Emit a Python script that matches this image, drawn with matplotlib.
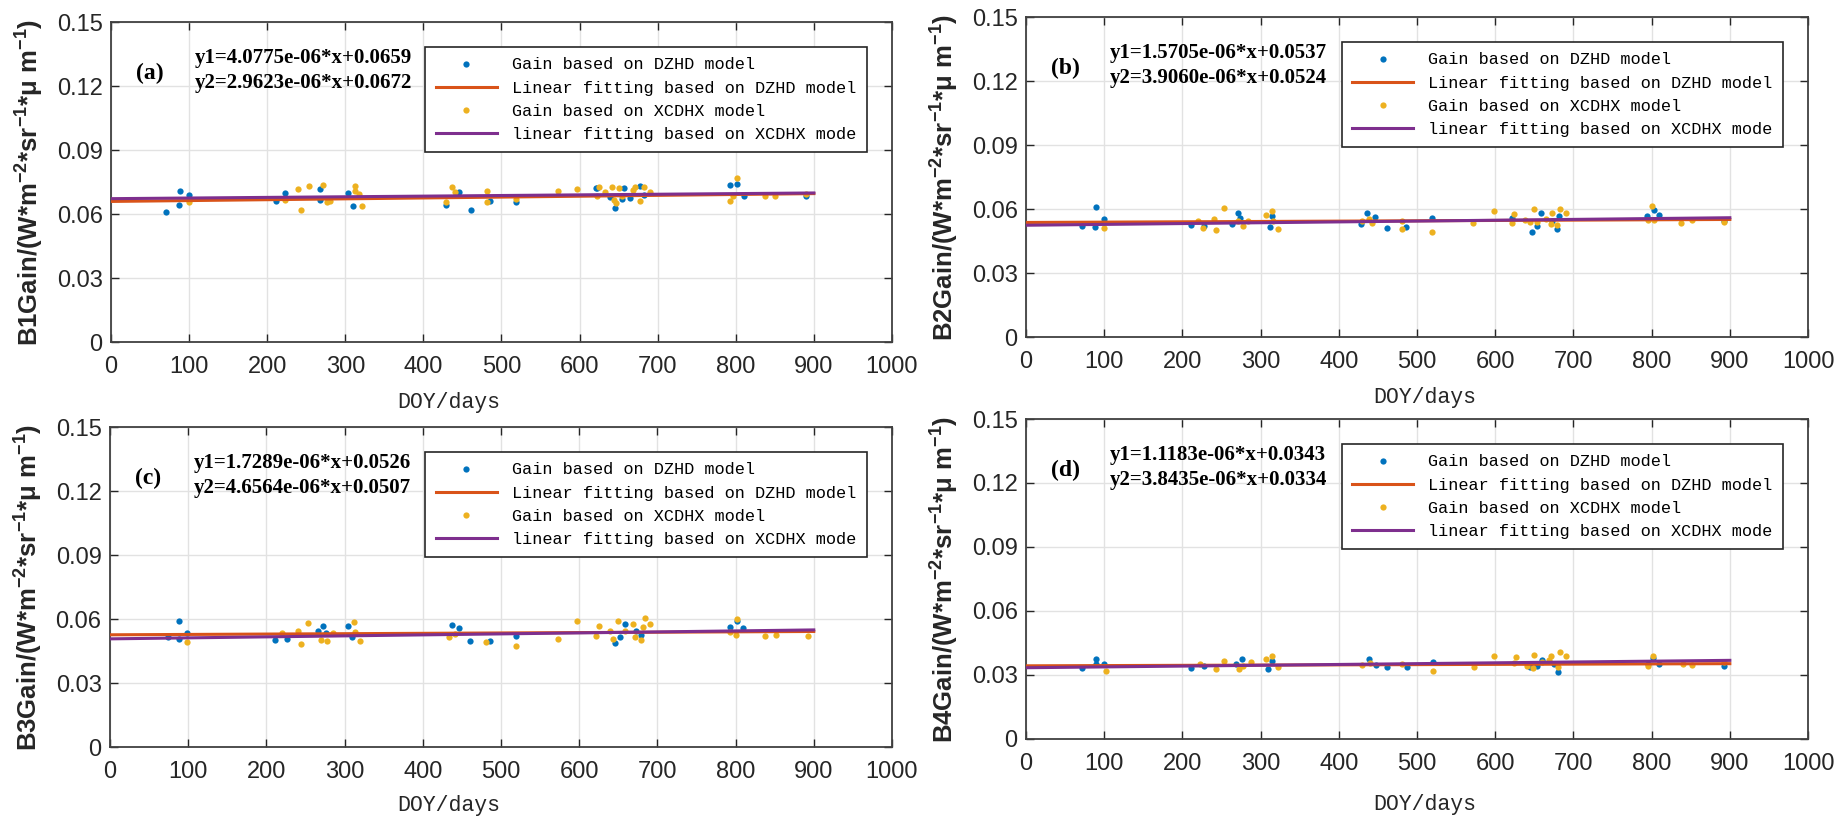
import numpy as np
import matplotlib
matplotlib.use("Agg")
from matplotlib import pyplot as plt

plt.rcParams['mathtext.fontset'] = 'custom'
plt.rcParams['mathtext.rm'] = 'Liberation Sans:bold'
plt.rcParams['mathtext.default'] = 'rm'

# ---- data ----
# panel (a) B1
doy_dzhd_a = [71, 88, 87, 100, 211, 223, 268, 268, 304, 310, 429, 446, 461, 485, 519,
              621, 622, 639, 645, 654, 657, 665, 677, 682, 792, 802, 810, 890]
gain_dzhd_a = [0.0611, 0.0710, 0.0643, 0.0689, 0.0663, 0.0697, 0.0717, 0.0666, 0.0697, 0.0638,
               0.0641, 0.0702, 0.0620, 0.0660, 0.0655, 0.0721, 0.0724, 0.0682, 0.0627, 0.0669,
               0.0721, 0.0674, 0.0733, 0.0690, 0.0738, 0.0740, 0.0686, 0.0686]
doy_xcdhx_a = [100, 223, 240, 243, 254, 272, 277, 280, 313, 313, 317, 322, 429, 436, 441,
               481, 481, 519, 572, 597, 622, 625, 633, 641, 644, 646, 650, 654, 669, 671,
               678, 683, 690, 793, 797, 802, 838, 850, 890]
gain_xcdhx_a = [0.0655, 0.0666, 0.0716, 0.0618, 0.0730, 0.0738, 0.0655, 0.0663, 0.0732, 0.0708,
                0.0692, 0.0639, 0.0655, 0.0729, 0.0704, 0.0708, 0.0655, 0.0671, 0.0708, 0.0719,
                0.0683, 0.0725, 0.0702, 0.0725, 0.0666, 0.0651, 0.0721, 0.0683, 0.0713, 0.0729,
                0.0659, 0.0725, 0.0705, 0.0659, 0.0685, 0.0771, 0.0686, 0.0686, 0.0692]

# panel (b) B2
doy_dzhd_b = [71, 89, 88, 100, 211, 227, 263, 271, 274, 312, 314, 429, 436, 446, 461, 486,
              519, 621, 647, 653, 658, 673, 679, 681, 794, 803, 809, 892]
gain_dzhd_b = [0.0520, 0.0611, 0.0516, 0.0552, 0.0523, 0.0520, 0.0528, 0.0580, 0.0559, 0.0517,
               0.0567, 0.0528, 0.0583, 0.0564, 0.0511, 0.0514, 0.0556, 0.0559, 0.0492, 0.0520,
               0.0583, 0.0544, 0.0505, 0.0567, 0.0567, 0.0595, 0.0570, 0.0544]
doy_xcdhx_b = [100, 220, 226, 241, 243, 253, 271, 277, 284, 307, 314, 316, 322, 430, 438, 442,
               481, 481, 519, 571, 598, 621, 624, 638, 645, 650, 654, 665, 671, 673, 679, 683,
               690, 795, 801, 803, 838, 851, 892]
gain_xcdhx_b = [0.0512, 0.0544, 0.0512, 0.0555, 0.0500, 0.0603, 0.0544, 0.0520, 0.0544, 0.0570,
                0.0591, 0.0544, 0.0505, 0.0544, 0.0555, 0.0536, 0.0544, 0.0505, 0.0494, 0.0536,
                0.0591, 0.0533, 0.0575, 0.0548, 0.0539, 0.0598, 0.0539, 0.0552, 0.0528, 0.0583,
                0.0523, 0.0598, 0.0583, 0.0548, 0.0614, 0.0548, 0.0533, 0.0548, 0.0539]

# panel (c) B3
doy_dzhd_c = [74, 88, 88, 99, 211, 226, 266, 272, 276, 305, 309, 437, 447, 460, 486, 519,
              646, 652, 658, 673, 679, 793, 802, 810]
gain_dzhd_c = [0.0518, 0.0593, 0.0507, 0.0533, 0.0502, 0.0504, 0.0546, 0.0569, 0.0533, 0.0565,
               0.0515, 0.0572, 0.0557, 0.0499, 0.0499, 0.0519, 0.0488, 0.0515, 0.0577, 0.0546,
               0.0527, 0.0561, 0.0590, 0.0558]
doy_xcdhx_c = [99, 220, 240, 244, 253, 270, 277, 285, 312, 314, 320, 433, 441, 481, 519, 573,
               597, 622, 626, 639, 643, 650, 658, 669, 671, 679, 682, 684, 691, 793, 802, 801,
               838, 852, 892]
gain_xcdhx_c = [0.0491, 0.0533, 0.0546, 0.0483, 0.0583, 0.0502, 0.0499, 0.0533, 0.0588, 0.0538,
                0.0499, 0.0515, 0.0530, 0.0491, 0.0474, 0.0507, 0.0593, 0.0522, 0.0569, 0.0546,
                0.0507, 0.0593, 0.0546, 0.0577, 0.0515, 0.0502, 0.0561, 0.0605, 0.0577, 0.0538,
                0.0600, 0.0527, 0.0519, 0.0527, 0.0519]

# panel (d) B4
doy_dzhd_d = [71, 89, 89, 100, 211, 228, 269, 276, 310, 314, 438, 447, 462, 487, 521, 645,
              654, 660, 675, 680, 795, 802, 810, 893]
gain_dzhd_d = [0.0331, 0.0375, 0.0352, 0.0352, 0.0331, 0.0341, 0.0352, 0.0375, 0.0328, 0.0367,
               0.0375, 0.0347, 0.0339, 0.0339, 0.0359, 0.0336, 0.0341, 0.0372, 0.0352, 0.0316,
               0.0352, 0.0378, 0.0352, 0.0344]
doy_xcdhx_d = [102, 222, 243, 253, 273, 278, 288, 307, 314, 322, 430, 440, 481, 521, 573, 598,
               624, 626, 641, 648, 650, 660, 669, 671, 680, 683, 690, 795, 802, 840, 851, 893]
gain_xcdhx_d = [0.0320, 0.0352, 0.0328, 0.0367, 0.0328, 0.0341, 0.0359, 0.0375, 0.0391, 0.0336,
                0.0347, 0.0356, 0.0352, 0.0320, 0.0339, 0.0391, 0.0356, 0.0383, 0.0344, 0.0331,
                0.0395, 0.0359, 0.0372, 0.0391, 0.0336, 0.0409, 0.0391, 0.0341, 0.0391, 0.0352,
                0.0347, 0.0359]

# fitted lines, ends at DOY 0 and 900 (from the printed equations)
fit_x = [0, 900]
fit_dzhd = {'a': [0.0659, 0.06957], 'b': [0.0537, 0.05511], 'c': [0.0526, 0.05416], 'd': [0.0343, 0.03531]}
fit_xcdhx = {'a': [0.0672, 0.06987], 'b': [0.0524, 0.05592], 'c': [0.0507, 0.05489], 'd': [0.0334, 0.03686]}

eq1 = {'a': 'y1=4.0775e-06*x+0.0659', 'b': 'y1=1.5705e-06*x+0.0537',
       'c': 'y1=1.7289e-06*x+0.0526', 'd': 'y1=1.1183e-06*x+0.0343'}
eq2 = {'a': 'y2=2.9623e-06*x+0.0672', 'b': 'y2=3.9060e-06*x+0.0524',
       'c': 'y2=4.6564e-06*x+0.0507', 'd': 'y2=3.8435e-06*x+0.0334'}
bands = {'a': 'B1', 'b': 'B2', 'c': 'B3', 'd': 'B4'}

legend_labels = ['Gain based on DZHD model', 'Linear fitting based on DZHD model',
                 'Gain based on XCDHX model', 'linear fitting based on XCDHX mode']

xticks = [0, 100, 200, 300, 400, 500, 600, 700, 800, 900, 1000]
yticks = [0, 0.03, 0.06, 0.09, 0.12, 0.15]
ytick_labels = ['0', '0.03', '0.06', '0.09', '0.12', '0.15']

points = {
    'a': (doy_dzhd_a, gain_dzhd_a, doy_xcdhx_a, gain_xcdhx_a),
    'b': (doy_dzhd_b, gain_dzhd_b, doy_xcdhx_b, gain_xcdhx_b),
    'c': (doy_dzhd_c, gain_dzhd_c, doy_xcdhx_c, gain_xcdhx_c),
    'd': (doy_dzhd_d, gain_dzhd_d, doy_xcdhx_d, gain_xcdhx_d),
}

# matlab default colours
c_blue = '#0072BD'
c_red = '#D95319'
c_yel = '#EDB120'
c_pur = '#7E2F8E'

# axes boxes [left, bottom, width, height] in figure fraction
boxes = {
    'a': [0.0603, 0.5824, 0.4242, 0.3907],
    'b': [0.5573, 0.5885, 0.4248, 0.3907],
    'c': [0.0597, 0.0879, 0.4248, 0.3907],
    'd': [0.5573, 0.0977, 0.4248, 0.3907],
}
xlab_pos = {'a': (0.433, -0.19), 'b': (0.51, -0.19), 'c': (0.433, -0.183), 'd': (0.51, -0.205)}

fig = plt.figure(figsize=(18.41, 8.19), dpi=100)

for p in ['a', 'b', 'c', 'd']:
    ax = fig.add_axes(boxes[p])
    xd, yd, xx, yx = points[p]
    ax.plot(xd, yd, 'o', color=c_blue, ms=4.5, mew=0, label=legend_labels[0], zorder=3)
    ax.plot(fit_x, fit_dzhd[p], '-', color=c_red, lw=2.2, label=legend_labels[1], zorder=4)
    ax.plot(xx, yx, 'o', color=c_yel, ms=4.5, mew=0, label=legend_labels[2], zorder=3)
    ax.plot(fit_x, fit_xcdhx[p], '-', color=c_pur, lw=2.2, label=legend_labels[3], zorder=4)

    ax.set_xlim(0, 1000)
    ax.set_ylim(0, 0.15)
    ax.set_xticks(xticks)
    ax.set_yticks(yticks)
    ax.set_yticklabels(ytick_labels)
    ax.grid(True, color='#e2e2e2', lw=1)
    ax.set_axisbelow(True)
    ax.tick_params(direction='in', length=6, width=1, top=True, right=True,
                   labelsize=17, colors='#262626')
    ax.tick_params(axis='x', pad=10)
    ax.tick_params(axis='y', pad=6)
    for lbl in ax.get_xticklabels() + ax.get_yticklabels():
        lbl.set_fontfamily('Liberation Sans')
    for s in ax.spines.values():
        s.set_color('#404040')
        s.set_linewidth(1.3)

    xlab = ax.set_xlabel('DOY/days', fontfamily='Liberation Mono', fontsize=15.5, color='#262626')
    xlab.set_va('center')
    ax.xaxis.set_label_coords(*xlab_pos[p])
    ylab = ax.set_ylabel(bands[p] + r'Gain/(W*m$^{-2}$*sr$^{-1}$*μ m$^{-1}$)',
                         fontfamily='Liberation Sans', fontweight='bold', fontsize=18.5,
                         color='#262626')
    ylab.set_va('center')
    ax.yaxis.set_label_coords(-0.104, 0.5)

    ax.text(0.032, 0.84, '(' + p + ')', transform=ax.transAxes, fontfamily='Liberation Serif',
            fontweight='bold', fontsize=17, va='center', ha='left')
    ax.text(0.107, 0.887, eq1[p], transform=ax.transAxes, fontfamily='Liberation Serif',
            fontweight='bold', fontsize=15, va='center', ha='left')
    ax.text(0.107, 0.81, eq2[p], transform=ax.transAxes, fontfamily='Liberation Serif',
            fontweight='bold', fontsize=15, va='center', ha='left')

    leg = ax.legend(loc='upper right', bbox_to_anchor=(0.968, 0.922), frameon=True,
                    fancybox=False, framealpha=1, edgecolor='#262626',
                    prop={'family': 'Liberation Mono', 'size': 12.2},
                    handlelength=3.6, handletextpad=0.9, labelspacing=0.48,
                    borderpad=0.62, borderaxespad=0, markerscale=1.0)
    leg.get_frame().set_linewidth(1.2)

plt.savefig('out.png', dpi=100)
